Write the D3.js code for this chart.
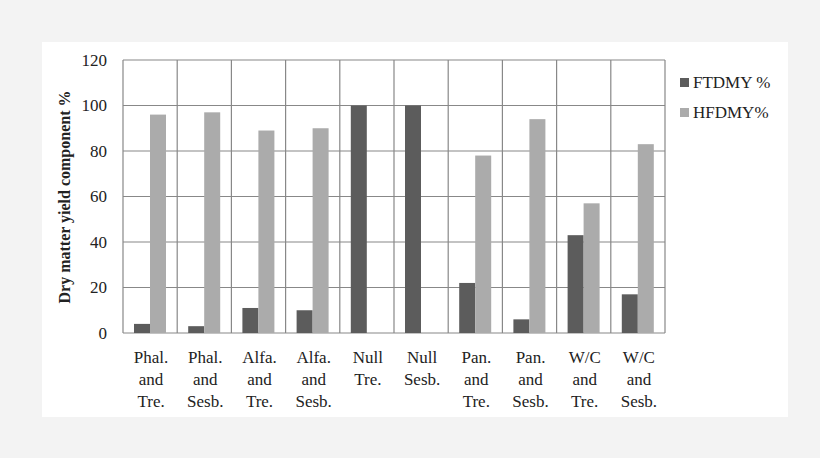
<!DOCTYPE html>
<html><head><meta charset="utf-8">
<script src="https://cdn.jsdelivr.net/npm/d3@7"></script>
<style>body{margin:0;background:#f3f3f3;font-family:"Liberation Serif","Times New Roman",serif}</style>
</head><body><svg id="chart" width="820" height="458"></svg>
<script>
var categories = [["Phal.","and","Tre."],["Phal.","and","Sesb."],["Alfa.","and","Tre."],["Alfa.","and","Sesb."],
  ["Null","Tre."],["Null","Sesb."],["Pan.","and","Tre."],["Pan.","and","Sesb."],["W/C","and","Tre."],["W/C","and","Sesb."]];
var ftdmy = [4, 3, 11, 10, 100, 100, 22, 6, 43, 17];
var hfdmy = [96, 97, 89, 90, 0, 0, 78, 94, 57, 83];
var seriesNames = ["FTDMY %", "HFDMY%"];
var yTicks = [0, 20, 40, 60, 80, 100, 120];

var svg = d3.select("#chart");
svg.append("rect").attr("x", 42).attr("y", 42).attr("width", 746).attr("height", 375).attr("fill", "#fff");

var pLeft = 123, pRight = 665, pTop = 60, pBottom = 333;
var x = d3.scaleBand().domain(d3.range(categories.length)).range([pLeft, pRight]);
var y = d3.scaleLinear().domain([0, 120]).range([pBottom, pTop]);
var bw = 16;

var grid = svg.append("g").attr("stroke", "#888").attr("stroke-width", 1.2);
yTicks.forEach(function (t) {
  grid.append("line").attr("x1", pLeft).attr("x2", pRight).attr("y1", y(t)).attr("y2", y(t));
});
d3.range(categories.length + 1).forEach(function (i) {
  var xx = pLeft + i * x.bandwidth();
  grid.append("line").attr("x1", xx).attr("x2", xx).attr("y1", pTop).attr("y2", pBottom);
});

svg.selectAll("rect.ft").data(ftdmy).enter().append("rect").attr("class", "ft")
   .attr("x", function (d, i) { return x(i) + 11; })
   .attr("y", function (d) { return y(d); })
   .attr("width", bw).attr("height", function (d) { return pBottom - y(d); })
   .attr("fill", "#5c5c5c");
svg.selectAll("rect.hf").data(hfdmy).enter().append("rect").attr("class", "hf")
   .attr("x", function (d, i) { return x(i) + 11 + bw; })
   .attr("y", function (d) { return y(d); })
   .attr("width", bw).attr("height", function (d) { return pBottom - y(d); })
   .attr("fill", "#ababab");

var yAxis = svg.append("g").attr("transform", "translate(" + pLeft + ",0)")
   .call(d3.axisLeft(y).tickValues(yTicks).tickSize(0).tickPadding(16));
yAxis.select(".domain").remove();
yAxis.selectAll("text").attr("font-size", 17).attr("font-family", "Liberation Serif").attr("fill", "#222");

var xl = svg.append("g");
categories.forEach(function (lines, i) {
  var t = xl.append("text").attr("text-anchor", "middle").attr("font-size", 17).attr("fill", "#222")
    .attr("x", x(i) + x.bandwidth() / 2 + 1);
  lines.forEach(function (s, j) {
    t.append("tspan").attr("x", x(i) + x.bandwidth() / 2 + 1).attr("y", 363 + j * 22).text(s);
  });
});

svg.append("text").attr("transform", "translate(70,197) rotate(-90)").attr("text-anchor", "middle")
   .attr("font-size", 16).attr("font-weight", "bold").attr("fill", "#222")
   .text("Dry matter yield component  %");

var lg = svg.append("g");
seriesNames.forEach(function (n, i) {
  lg.append("rect").attr("x", 680).attr("y", 78 + i * 30).attr("width", 9).attr("height", 9)
    .attr("fill", i ? "#ababab" : "#5c5c5c");
  lg.append("text").attr("x", 693).attr("y", 88 + i * 30).attr("font-size", 17).attr("fill", "#222").text(n);
});
</script></body></html>
